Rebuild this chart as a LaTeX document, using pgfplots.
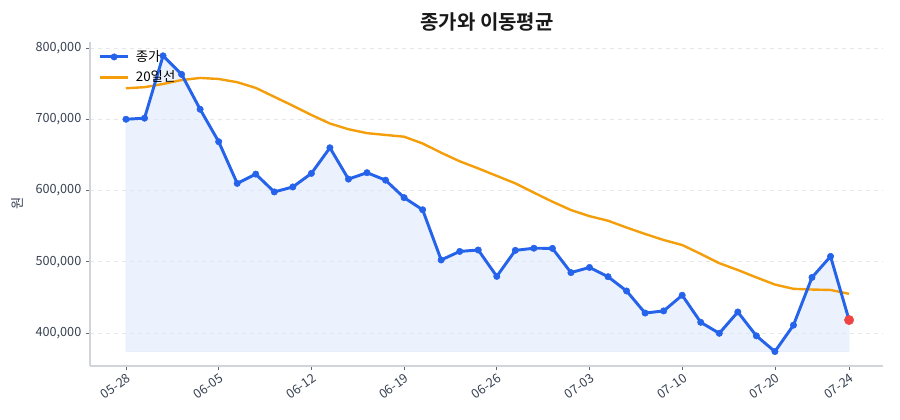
\documentclass[border=0pt]{standalone}
\usepackage{pgfplots}
\pgfplotsset{compat=1.18}
\usepackage{pgfplotstable}
\usepgfplotslibrary{fillbetween}
\usepackage{fontspec}
\setmainfont{Noto Sans CJK KR}[BoldFont={Noto Sans CJK KR Bold}]
\definecolor{cblue}{HTML}{2563EB}
\definecolor{corange}{HTML}{F59E0B}
\definecolor{cred}{HTML}{EF4444}
\definecolor{ctext}{HTML}{374151}
\definecolor{cspine}{HTML}{D1D5DB}
\definecolor{cgrid}{HTML}{E5E7EB}
\definecolor{cfill}{HTML}{DBE6FB}
\pgfplotstableread{
idx close ma
0 700000 743500
1 701500 745000
2 789000 749500
3 763000 755000
4 714000 758000
5 668500 756500
6 610000 752000
7 623000 744000
8 598000 731500
9 605000 719000
10 624000 706000
11 660000 694000
12 616000 686000
13 625000 680500
14 614500 678000
15 590000 675500
16 573000 666000
17 502500 653000
18 514500 641000
19 516500 631000
20 479500 620500
21 516000 610000
22 519000 597000
23 518800 584300
24 484800 572600
25 492000 564000
26 479000 557600
27 459000 548000
28 428000 539000
29 431000 530500
30 453000 523500
31 415000 511000
32 399600 498000
33 429500 488400
34 396000 478000
35 374000 468000
36 411000 462000
37 478000 461000
38 507500 460400
39 418200 455000
}\datatable
\begin{document}
\begin{tikzpicture}
\path (0,0) rectangle (675pt,315pt);
\node[font=\fontsize{15}{17}\selectfont\bfseries, text=black!90] at (365.25pt,298.5pt) {종가와 이동평균};
\begin{axis}[
  at={(67.5pt,40.5pt)}, anchor=south west,
  width=594.75pt, height=243.3pt, scale only axis,
  xmin=-1.94, xmax=40.83,
  ymin=353700, ymax=809000,
  axis x line*=bottom, axis y line*=left,
  axis line style={cspine, line width=1pt, -},
  xtick={0,5,10,15,20,25,30,35,39},
  xticklabels={05-28,06-05,06-12,06-19,06-26,07-03,07-10,07-20,07-24},
  ytick={400000,500000,600000,700000,800000},
  yticklabels={{400,000},{500,000},{600,000},{700,000},{800,000}},
  scaled y ticks=false,
  tick align=outside,
  major tick length=3pt,
  tick style={ctext!80, line width=0.6pt},
  xticklabel style={rotate=35, anchor=north east, font=\fontsize{9.5}{11}\selectfont, text=ctext, inner sep=1pt, yshift=-1pt},
  yticklabel style={font=\fontsize{9.5}{11}\selectfont, text=ctext},
  ymajorgrids,
  major grid style={cgrid, dashed, line width=0.6pt},
  ylabel={원},
  every axis y label/.style={at={(axis description cs:-0.091,0.5)}, rotate=90, anchor=center, font=\fontsize{10}{11}\selectfont, text=ctext},
  legend style={draw=none, fill=none, at={(axis description cs:0.006,0.99)}, anchor=north west, font=\fontsize{10}{12}\selectfont, row sep=1.5pt, text=black, /tikz/every odd column/.append style={column sep=3pt}},
  legend cell align=left,
  legend image code/.code={\draw[mark repeat=2, mark phase=2, #1] plot coordinates {(0cm,0cm) (0.36cm,0cm) (0.72cm,0cm)};},
]
\addplot[draw=none, name path=base, forget plot] coordinates {(0,374000) (39,374000)};
\addplot[draw=none, name path=closep, forget plot] table[x=idx, y=close] {\datatable};
\addplot[fill=cfill, fill opacity=0.55, draw=cblue, draw opacity=0.08, forget plot] fill between[of=closep and base];
\addplot[corange, line width=1.8pt, forget plot] table[x=idx, y=ma] {\datatable};
\addplot[cblue, line width=2.2pt, mark=*, mark size=2.4pt, mark options={fill=cblue, draw=cblue, line width=0.4pt}, forget plot] table[x=idx, y=close] {\datatable};
\addplot[only marks, mark=*, mark size=3.5pt, mark options={fill=cred, draw=cred, line width=0.4pt}, forget plot] coordinates {(39,418200)};
\addlegendimage{cblue, line width=2.2pt, mark=*, mark size=2.4pt, mark options={fill=cblue, draw=cblue, line width=0.4pt}}
\addlegendentry{종가}
\addlegendimage{corange, line width=1.8pt}
\addlegendentry{20일선}
\end{axis}
\end{tikzpicture}
\end{document}
